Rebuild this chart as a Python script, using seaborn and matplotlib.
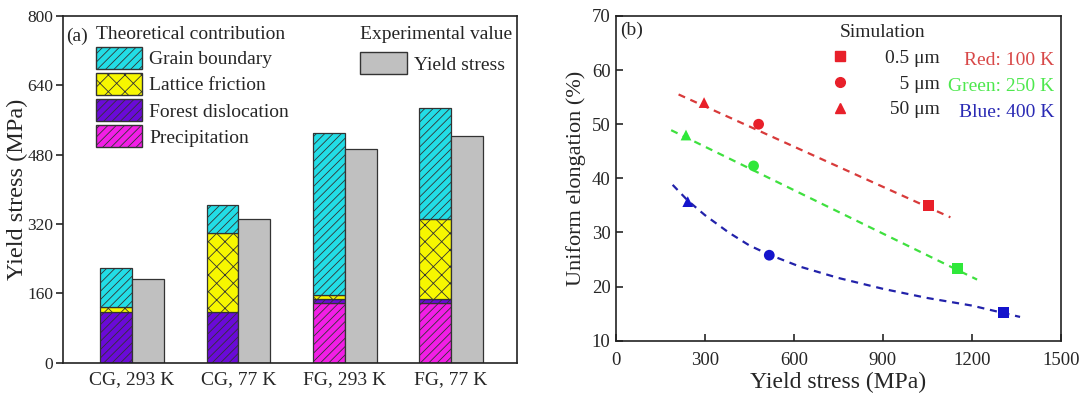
import numpy as np
import pandas as pd
import matplotlib
matplotlib.use("Agg")
import matplotlib.pyplot as plt
from matplotlib.patches import Patch
from matplotlib.lines import Line2D
import seaborn as sns

# ---- panel (a): yield stress contributions ----
categories = ["CG, 293 K", "CG, 77 K", "FG, 293 K", "FG, 77 K"]
precipitation = [0, 0, 138, 138]
forest_dislocation = [118, 116, 9, 9]
lattice_friction = [10, 184, 10, 184]
grain_boundary = [90, 64, 372, 256]
yield_stress_exp = [192, 331, 492, 524]

# ---- panel (b): simulation points ----
grain_sizes = ["0.5 μm", "5 μm", "50 μm"]
red_x = [1055, 481, 297]
red_y = [35.0, 50.0, 54.0]
green_x = [1151, 464, 236]
green_y = [23.4, 42.3, 48.0]
blue_x = [1306, 517, 242]
blue_y = [15.2, 25.8, 35.7]

# dashed trend lines
red_fit_x = [211, 1128]
red_fit_y = [55.5, 32.8]
green_fit_x = [186, 1218]
green_fit_y = [48.9, 21.3]
blue_fit_x = [191, 242, 300, 380, 450, 517, 620, 750, 900, 1050, 1200, 1363]
blue_fit_y = [38.8, 35.9, 33.2, 30.0, 27.6, 25.9, 23.7, 21.6, 19.6, 17.9, 16.5, 14.4]

sns.set_theme(style="ticks")
plt.rcParams['font.family'] = ['Liberation Serif', 'DejaVu Serif']
plt.rcParams['hatch.linewidth'] = 0.6
plt.rcParams['axes.linewidth'] = 1.2

fig = plt.figure(figsize=(10.8, 3.99), dpi=100)
ax1 = fig.add_axes([0.0583, 0.091, 0.4204, 0.869])
ax2 = fig.add_axes([0.5704, 0.146, 0.4117, 0.814])

# -----------------------
# (a) stacked bars
# -----------------------
x = np.arange(len(categories))
w = 0.30
parts = [
    ("Precipitation", precipitation, "#f21ee6", "////"),
    ("Forest dislocation", forest_dislocation, "#6a0ad8", "////"),
    ("Lattice friction", lattice_friction, "#f7f700", "xx"),
    ("Grain boundary", grain_boundary, "#22dde6", "////"),
]
bottom = np.zeros(len(categories))
for name, vals, col, hatch in parts:
    ax1.bar(x - w / 2, vals, w, bottom=bottom, color=col, hatch=hatch,
            edgecolor="#333333", linewidth=0.9)
    bottom += np.array(vals)
ax1.bar(x + w / 2, yield_stress_exp, w, color="#c0c0c0",
        edgecolor="#333333", linewidth=0.9)

ax1.set_xlim(-0.65, 3.62)
ax1.set_ylim(0, 800)
ax1.set_yticks(np.arange(0, 801, 160))
ax1.set_xticks(x)
ax1.set_xticklabels(categories, fontsize=14)
ax1.tick_params(axis='y', direction='out', length=5, width=1.2, labelsize=12.5, pad=2)
ax1.tick_params(axis='x', length=0, pad=6)
ax1.set_ylabel("Yield stress (MPa)", fontsize=17.5)
ax1.yaxis.set_label_coords(-0.076, 0.5)
for s in ax1.spines.values():
    s.set_visible(True)
    s.set_color("#222222")

theo_handles = [Patch(facecolor=c, edgecolor="#333333", hatch=h, label=n)
                for n, _, c, h in parts[::-1]]
leg1 = ax1.legend(handles=theo_handles, loc='upper left', bbox_to_anchor=(0.072, 0.972),
                  title="Theoretical contribution", alignment='left', frameon=False,
                  fontsize=14, title_fontsize=14, handlelength=2.4, handleheight=1.35,
                  labelspacing=0.22, handletextpad=0.35, borderaxespad=0, borderpad=0)
ax1.add_artist(leg1)
exp_handle = [Patch(facecolor="#c0c0c0", edgecolor="#333333", label="Yield stress")]
ax1.legend(handles=exp_handle, loc='upper right', bbox_to_anchor=(0.99, 0.972),
           title="Experimental value", alignment='left', frameon=False,
           fontsize=14, title_fontsize=14, handlelength=2.4, handleheight=1.35,
           handletextpad=0.35, borderaxespad=0, borderpad=0)
ax1.text(0.008, 0.94, "(a)", transform=ax1.transAxes, fontsize=14, va='center', ha='left')

# -----------------------
# (b) elongation vs yield stress
# -----------------------
colors = {"Red: 100 K": "#e8202a", "Green: 250 K": "#2fe83a", "Blue: 400 K": "#1414cc"}
line_colors = {"Red: 100 K": "#d83a3a", "Green: 250 K": "#3fe03f", "Blue: 400 K": "#2222aa"}
text_colors = {"Red: 100 K": "#d84848", "Green: 250 K": "#4ee84e", "Blue: 400 K": "#2a2ab4"}

pts = pd.DataFrame({
    "x": red_x + green_x + blue_x,
    "y": red_y + green_y + blue_y,
    "temp": ["Red: 100 K"] * 3 + ["Green: 250 K"] * 3 + ["Blue: 400 K"] * 3,
    "size": grain_sizes * 3,
})
fits = [(red_fit_x, red_fit_y, "Red: 100 K"),
        (green_fit_x, green_fit_y, "Green: 250 K"),
        (blue_fit_x, blue_fit_y, "Blue: 400 K")]
for fx, fy, t in fits:
    ax2.plot(fx, fy, color=line_colors[t], lw=1.6, ls=(0, (3.2, 2.6)), zorder=1)

sns.scatterplot(data=pts, x="x", y="y", hue="temp", style="size",
                palette=colors, markers={"0.5 μm": "s", "5 μm": "o", "50 μm": "^"},
                s=60, edgecolor="none", legend=False, ax=ax2, zorder=3)

ax2.set_xlim(0, 1500)
ax2.set_ylim(10, 70)
ax2.set_xticks(np.arange(0, 1501, 300))
ax2.set_yticks(np.arange(10, 71, 10))
ax2.tick_params(direction='in', length=5, width=1.2, labelsize=13.5, pad=4)
ax2.tick_params(axis='x', pad=8)
ax2.set_xlabel("Yield stress (MPa)", fontsize=17, labelpad=2)
ax2.set_ylabel("Uniform elongation (%)", fontsize=16, labelpad=4)
for s in ax2.spines.values():
    s.set_visible(True)
    s.set_color("#222222")

# labels padded with figure/punctuation spaces so they line up on the right
padded = ["0.5 μm", "\u2007\u20085 μm", "\u200850 μm"]
sim_handles = [Line2D([], [], marker=m, color="#e8202a", ls='none', ms=7)
               for m in ["s", "o", "^"]]
ax2.legend(sim_handles, padded, loc='upper left', bbox_to_anchor=(0.47, 0.975),
           title="Simulation", frameon=False, fontsize=14, title_fontsize=14,
           handlelength=1.5, handletextpad=1.6, labelspacing=0.42,
           borderaxespad=0, borderpad=0)
for i, t in enumerate(colors):
    ax2.text(0.985, 0.862 - i * 0.08, t, transform=ax2.transAxes, color=text_colors[t],
             fontsize=14, ha='right', va='center')
ax2.text(0.01, 0.955, "(b)", transform=ax2.transAxes, fontsize=14, va='center', ha='left')

fig.savefig("out.png", dpi=100)
